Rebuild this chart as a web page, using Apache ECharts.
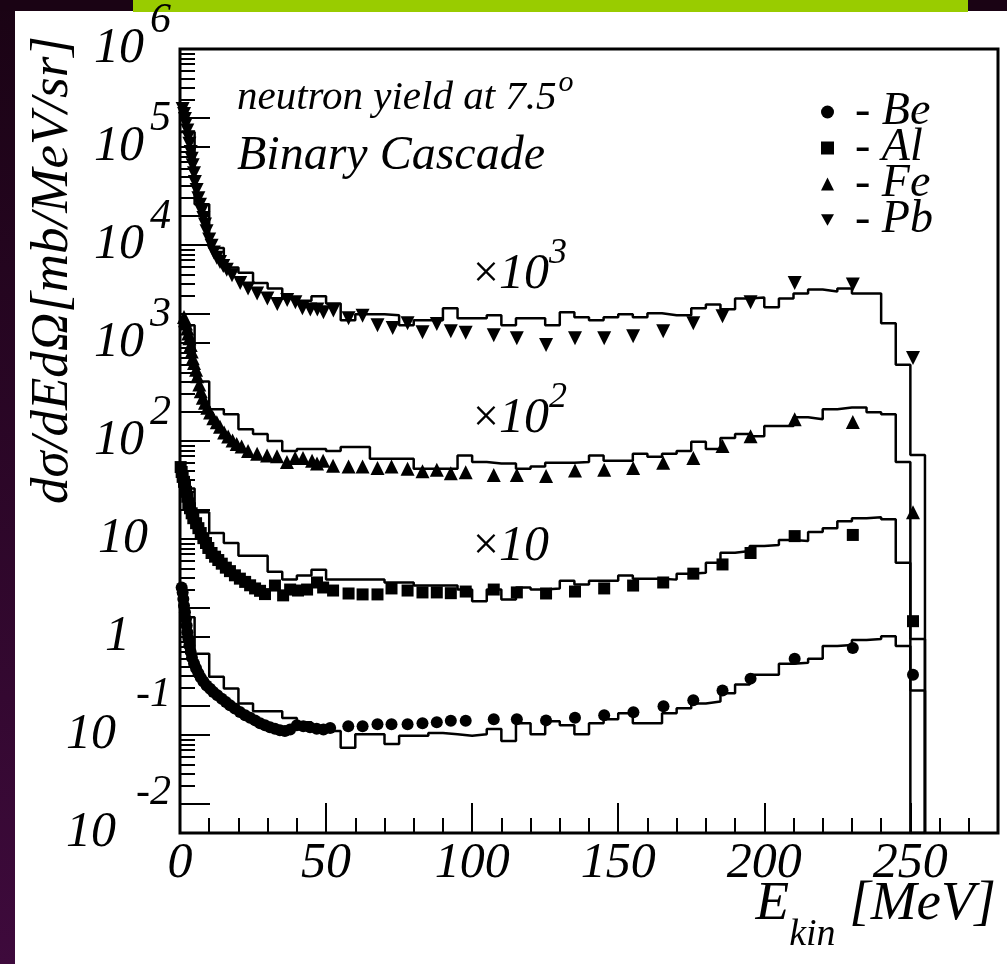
<!DOCTYPE html>
<html>
<head>
<meta charset="utf-8">
<script src="https://cdn.jsdelivr.net/npm/echarts@6/dist/echarts.min.js"></script>
<style>
  html, body { margin: 0; padding: 0; background: #fff; }
  #wrap { position: relative; width: 1007px; height: 964px; overflow: hidden; }
  .strip { position: absolute; left: 0; top: 0; width: 15px; height: 964px; background: linear-gradient(#1a0314, #3e0a3c); }
  .band { position: absolute; left: 0; top: 0; width: 1007px; height: 11px; background: #1a0314; }
  .green { position: absolute; left: 133px; top: 0; width: 835px; height: 12px; background: #99cc00; }
  #chart { position: absolute; left: 0; top: 0; width: 1007px; height: 964px; }
</style>
</head>
<body>
<div id="wrap">
  <div class="strip"></div>
  <div class="band"></div>
  <div class="green"></div>
  <div id="chart"></div>
</div>
<script>
const FONT = '"Liberation Serif", "Times New Roman", serif'

// measured points (already multiplied: Al x10, Fe x10^2, Pb x10^3)
const beEnergy = [0.57, 0.91, 1.14, 1.37, 1.71, 2.05, 2.28, 2.5, 2.85, 3.2, 3.65, 4.1, 4.8, 5.5, 6.3, 7.1, 8.0, 9.1, 10.3,
  11.4, 12.8, 14.3, 15.7, 17.1, 18.8, 20.5, 22.3, 24.0, 25.7, 27.4, 29.1, 30.8, 32.5, 34.2, 35.9, 37.7, 40, 42.2, 44.5,
  46.8, 49.1, 51.4,
  57.6, 62.5, 67.6, 72.4, 77.9, 83, 87.9, 92.7, 97.8, 107.4, 115.3, 125.3, 135.2, 145.2, 155.2, 165.5, 175.7, 185.7, 195.3, 210.4, 230.3, 250.9]
const beYield = [3.2, 2.85, 2.44, 2.09, 1.79, 1.53, 1.31, 1.12, 0.96, 0.82, 0.705, 0.614, 0.538, 0.479, 0.426, 0.385, 0.351, 0.32, 0.296,
  0.274, 0.254, 0.235, 0.217, 0.201, 0.186, 0.172, 0.159, 0.15, 0.141, 0.132, 0.126, 0.12, 0.116, 0.112, 0.11, 0.114, 0.126, 0.123, 0.12,
  0.116, 0.114, 0.118,
  0.123, 0.123, 0.129, 0.129, 0.129, 0.132, 0.135, 0.14, 0.14, 0.145, 0.145, 0.141, 0.15, 0.159, 0.171, 0.196, 0.226, 0.285, 0.376, 0.60, 0.774, 0.413]

const alEnergy = [0.23, 0.57, 0.91, 1.37, 1.71, 2.05, 2.5, 2.85, 3.42, 4.0, 4.55, 5.5, 6.3, 7.1, 8.0, 8.9, 9.7, 10.8, 12.0, 13.1,
  14.3, 15.7, 17.1, 18.8, 20.5, 22.3, 24.0, 25.7, 27.4, 29.1, 32.5, 35.3, 37.7, 40.4, 43.5, 46.9, 49, 52.4,
  57.7, 62.5, 67.6, 72.4, 77.9, 83, 87.9, 92.7, 97.8, 107.4, 115.3, 125.3, 135.2, 145.2, 155.1, 165.4, 175.7, 185.7, 195.3, 210.4, 230.3, 250.9]
const alYield = [54.2, 48.3, 43, 38.3, 34.1, 30.3, 27, 23.1, 20.6, 18.3, 16.3, 14.5, 12.9, 11.5, 10.2, 9.1, 8.1, 7.2, 6.6, 6.1,
  5.6, 5.1, 4.7, 4.26, 3.94, 3.65, 3.37, 3.13, 2.96, 2.74, 3.35, 2.66, 3.05, 2.98, 3.05, 3.6, 3.2, 2.98,
  2.78, 2.72, 2.72, 3.13, 2.98, 2.85, 2.85, 2.8, 2.91, 3.05, 2.85, 2.78, 2.91, 3.13, 3.35, 3.6, 4.43, 5.5, 7.2, 10.7, 11, 1.45]

const feEnergy = [1.37, 1.71, 2.05, 2.5, 2.85, 3.2, 3.65, 4.0, 4.35, 4.8, 5.5, 5.9, 6.6, 7.1, 7.8, 8.55, 9.35, 10.3, 11.4, 12.6,
  13.7, 15.1, 16.5, 18.0, 19.4, 21.1, 23.3, 26.4, 29.8, 33.2, 36.6, 39.4, 42.1, 45.2, 46.9, 49, 52.4,
  57.7, 62.5, 67.6, 72.4, 77.9, 83, 87.9, 92.7, 97.8, 107.4, 115.3, 125.3, 135.2, 145.2, 155.1, 165.4, 175.7, 185.7, 195.3, 210.4, 230.3, 250.9]
const feYield = [1845, 1706, 1581, 1407, 1253, 1115, 955, 817, 700, 624, 534, 457, 377, 322, 276, 246, 219, 195, 171, 155,
  140, 122, 111, 101, 93, 88, 79, 74, 71, 70, 61, 67, 67, 63, 59, 63, 56,
  55, 55, 53, 55, 52, 49, 51, 47, 48, 45, 45, 44, 50, 51, 53, 60, 67, 89, 112, 167, 156, 18.7]

const pbEnergy = [0.9, 1.4, 1.7, 2.05, 2.5, 2.85, 3.2, 3.65, 4.0, 4.35, 4.8, 5.1, 5.7, 6.3, 6.85, 7.4, 8.0, 8.55, 9.1, 10.0,
  10.8, 11.6, 12.6, 13.7, 14.8, 16.0, 17.8, 20.6, 23.3, 26.4, 29.9, 33.3, 36.7, 39.5, 41.9, 44.6, 47, 49.1, 52.5,
  57.7, 62.5, 67.6, 72.8, 77.9, 83, 87.9, 92.7, 97.8, 107.4, 115.3, 125.3, 135.2, 145.2, 155.1, 165.4, 175.7, 185.7, 195.3, 210.4, 230.3, 250.9]
const pbYield = [2.44e5, 2.17e5, 1.93e5, 1.72e5, 1.47e5, 1.26e5, 1.08e5, 8.9e4, 7.6e4, 6.5e4, 5.4e4, 4.4e4, 3.65e4, 3.0e4, 2.58e4, 2.2e4, 1.89e4, 1.62e4, 1.38e4, 1.14e4,
  9800, 8400, 7400, 6700, 6100, 5600, 4900, 4100, 3600, 3200, 2850, 2500, 2750, 2600, 2260, 2200, 2200, 2060, 2150,
  1790, 1900, 1520, 1420, 1590, 1290, 1560, 1320, 1270, 1200, 1120, 955, 1120, 1120, 1170, 1320, 1590, 1870, 2600, 4100, 3950, 705]

// Binary Cascade histograms, 5 MeV bins from 0 MeV (0 = empty bin)
const binWidth = 5
const beHist = [1.59, 0.673, 0.394, 0.298, 0.21, 0.175, 0.175, 0.149, 0.135, 0.11, 0.11, 0.074, 0.102, 0.102, 0.081, 0.098, 0.098,
  0.105, 0.102, 0.098, 0.102, 0.115, 0.087, 0.132, 0.102, 0.138, 0.126, 0.102, 0.132, 0.145, 0.167, 0.132, 0.132, 0.167, 0.187,
  0.21, 0.22, 0.266, 0.327, 0.413, 0.413, 0.534, 0.546, 0.6, 0.81, 0.83, 0.933, 0.955, 1.02, 0.81, 0.285]
const alHist = [32.7, 18.7, 11.5, 9.1, 6.73, 6.73, 4.64, 3.85, 4.23, 4.86, 3.85, 3.85, 3.85, 3.85, 3.59, 3.59, 3.35, 3.35, 3.35,
  3.05, 2.31, 3.05, 2.42, 3.2, 3.05, 3.13, 3.76, 3.43, 3.76, 3.76, 4.23, 3.94, 3.94, 3.85, 4.43, 4.53, 5.72, 7.22, 7.56, 8.5,
  8.7, 9.77, 9.54, 11.8, 12.9, 15.2, 16.3, 16.7, 15.9, 5.72, 0.955]
const feHist = [1520, 404, 211, 187, 132, 118, 100, 79, 83, 83, 79, 87, 87, 66, 66, 66, 52, 52, 52, 71, 61, 59, 59, 52, 55, 60,
  60, 61, 71, 63, 63, 74, 69, 74, 79, 98, 83, 107, 118, 112, 142, 142, 175, 167, 211, 220, 220, 196, 187, 61, 0]
const pbHist = [1.42e5, 2.6e4, 9300, 5900, 5200, 4100, 3600, 2850, 2700, 3000, 2535, 1706, 1963, 1963, 1918, 1520, 1706, 1706,
  2258, 1790, 1790, 1918, 1520, 1790, 1790, 1520, 2056, 1834, 1706, 1834, 1963, 1834, 2010, 1918, 1918, 2258, 2477, 2205, 2850,
  2915, 2311, 2850, 3199, 3508, 3350, 3594, 3199, 3199, 1592, 600, 72]

const yMin = 0.01
const yMax = 1e6
const xMax = 280

// log-axis minor tick positions, expressed as log10 for the helper linear axes
const longMinor = []
const shortMinor = []
for (let d = -2; d < 6; d++) {
  longMinor.push(d + Math.log10(2))
  for (let m = 3; m <= 9; m++) shortMinor.push(d + Math.log10(m))
}

function pairs(xs, ys) {
  return xs.map((x, i) => [x, ys[i]])
}

function histPoints(contents) {
  const pts = []
  contents.forEach((c, i) => {
    const v = c > 0 ? c : yMin
    pts.push([i * binWidth, v], [(i + 1) * binWidth, v])
  })
  pts.push([contents.length * binWidth, yMin])
  return pts
}

const italic = { fontFamily: FONT, fontStyle: 'italic', color: '#000' }
const downTriangle = 'path://M0,0L10,0L5,8.7Z'

function histSeries(name, contents) {
  return {
    name: name,
    type: 'line',
    data: histPoints(contents),
    showSymbol: false,
    symbol: 'none',
    lineStyle: { color: '#000', width: 2.5 },
    z: 2,
    silent: true
  }
}

function pointSeries(name, xs, ys, symbol, size) {
  return {
    name: name,
    type: 'scatter',
    data: pairs(xs, ys),
    symbol: symbol,
    symbolSize: size,
    itemStyle: { color: '#000', opacity: 1 },
    z: 3
  }
}

const chart = echarts.init(document.getElementById('chart'), null, { renderer: 'canvas' })

chart.setOption({
  animation: false,
  backgroundColor: 'transparent',
  grid: { left: 180, right: 9, top: 41, bottom: 131, show: true, borderColor: '#000', borderWidth: 3, backgroundColor: '#fff' },
  legend: {
    data: ['Be', 'Al', 'Fe', 'Pb'],
    orient: 'vertical',
    left: 816,
    top: 84,
    itemWidth: 13,
    itemHeight: 13,
    itemGap: -10,
    selectedMode: false,
    formatter: (name) => '- ' + name,
    itemStyle: { opacity: 1 },
    textStyle: { ...italic, fontSize: 46, padding: [0, 0, 0, 16] }
  },
  xAxis: [
    {
      type: 'value', min: 0, max: xMax, interval: 50,
      axisLine: { show: false, onZero: false },
      splitLine: { show: false },
      axisTick: { inside: true, length: 30, lineStyle: { color: '#000', width: 2 } },
      axisLabel: {
        ...italic, fontSize: 50, margin: 6,
        formatter: (v) => (v % 50 === 0 && v <= 250 ? String(v) : '')
      }
    },
    {
      type: 'value', min: 0, max: xMax, interval: 10, position: 'bottom',
      axisLine: { show: false, onZero: false },
      splitLine: { show: false },
      axisTick: { inside: true, length: 15, lineStyle: { color: '#000', width: 2 } },
      axisLabel: { show: false }
    }
  ],
  yAxis: [
    {
      type: 'log', min: yMin, max: yMax, logBase: 10, splitNumber: 8, position: 'left',
      axisLine: { show: false, onZero: false },
      splitLine: { show: false },
      axisTick: { inside: true, length: 30, lineStyle: { color: '#000', width: 2 } },
      axisLabel: {
        margin: 9,
        formatter: (v) => {
          const e = Math.round(Math.log10(v))
          if (e === 0) return '{one|1}'
          if (e === 1) return '{ten|10}'
          if (e < 0) return '{b|10}{en|' + e + '}'
          return '{b|10}{e|' + e + '}'
        },
        rich: {
          b: { ...italic, fontSize: 50 },
          e: { ...italic, fontSize: 42, padding: [0, 0, 56, 6] },
          en: { ...italic, fontSize: 42, padding: [0, 0, 80, 20] },
          one: { ...italic, fontSize: 50, padding: [0, 41, 0, 0] },
          ten: { ...italic, fontSize: 50, padding: [0, 23, 0, 0] }
        }
      }
    },
    {
      type: 'value', min: -2, max: 6, position: 'left',
      axisLine: { show: false, onZero: false },
      splitLine: { show: false },
      axisLabel: { show: false },
      axisTick: { inside: true, length: 30, customValues: longMinor, lineStyle: { color: '#000', width: 2 } }
    },
    {
      type: 'value', min: -2, max: 6, position: 'left',
      axisLine: { show: false, onZero: false },
      splitLine: { show: false },
      axisLabel: { show: false },
      axisTick: { inside: true, length: 15, customValues: shortMinor, lineStyle: { color: '#000', width: 2 } }
    }
  ],
  graphic: [
    {
      type: 'text', x: 237, y: 98,
      style: {
        text: '{t|neutron yield at 7.5}{o|o}', verticalAlign: 'middle',
        rich: { t: { ...italic, fontSize: 41 }, o: { ...italic, fontSize: 30, padding: [0, 0, 30, 2] } }
      }
    },
    {
      type: 'text', x: 237, y: 156,
      style: { text: 'Binary Cascade', verticalAlign: 'middle', fill: '#000', font: 'italic 48px ' + FONT }
    },
    {
      type: 'text', x: 473, y: 275,
      style: {
        text: '{x|×}{b|10}{e|3}', verticalAlign: 'middle',
        rich: { x: { fontFamily: FONT, fontSize: 46, color: '#000' }, b: { ...italic, fontSize: 50 }, e: { ...italic, fontSize: 36, padding: [0, 0, 42, 0] } }
      }
    },
    {
      type: 'text', x: 473, y: 419,
      style: {
        text: '{x|×}{b|10}{e|2}', verticalAlign: 'middle',
        rich: { x: { fontFamily: FONT, fontSize: 46, color: '#000' }, b: { ...italic, fontSize: 50 }, e: { ...italic, fontSize: 36, padding: [0, 0, 42, 0] } }
      }
    },
    {
      type: 'text', x: 473, y: 547,
      style: {
        text: '{x|×}{b|10}', verticalAlign: 'middle',
        rich: { x: { fontFamily: FONT, fontSize: 46, color: '#000' }, b: { ...italic, fontSize: 50 } }
      }
    },
    {
      type: 'text', x: 53, y: 270, rotation: Math.PI / 2,
      style: { text: 'dσ/dEdΩ[mb/MeV/sr]', align: 'center', verticalAlign: 'middle', fill: '#000', font: 'italic 53px ' + FONT }
    },
    {
      type: 'text', x: 996, y: 905,
      style: {
        text: '{b|E}{s|kin}{b| [MeV]}', align: 'right', verticalAlign: 'middle',
        rich: { b: { ...italic, fontSize: 55 }, s: { ...italic, fontSize: 38, padding: [60, 0, 0, 0] } }
      }
    }
  ],
  series: [
    histSeries('Be histogram', beHist),
    histSeries('Al histogram', alHist),
    histSeries('Fe histogram', feHist),
    histSeries('Pb histogram', pbHist),
    pointSeries('Be', beEnergy, beYield, 'circle', 12),
    pointSeries('Al', alEnergy, alYield, 'rect', 12),
    pointSeries('Fe', feEnergy, feYield, 'triangle', 14),
    pointSeries('Pb', pbEnergy, pbYield, downTriangle, 14)
  ]
})
</script>
</body>
</html>
